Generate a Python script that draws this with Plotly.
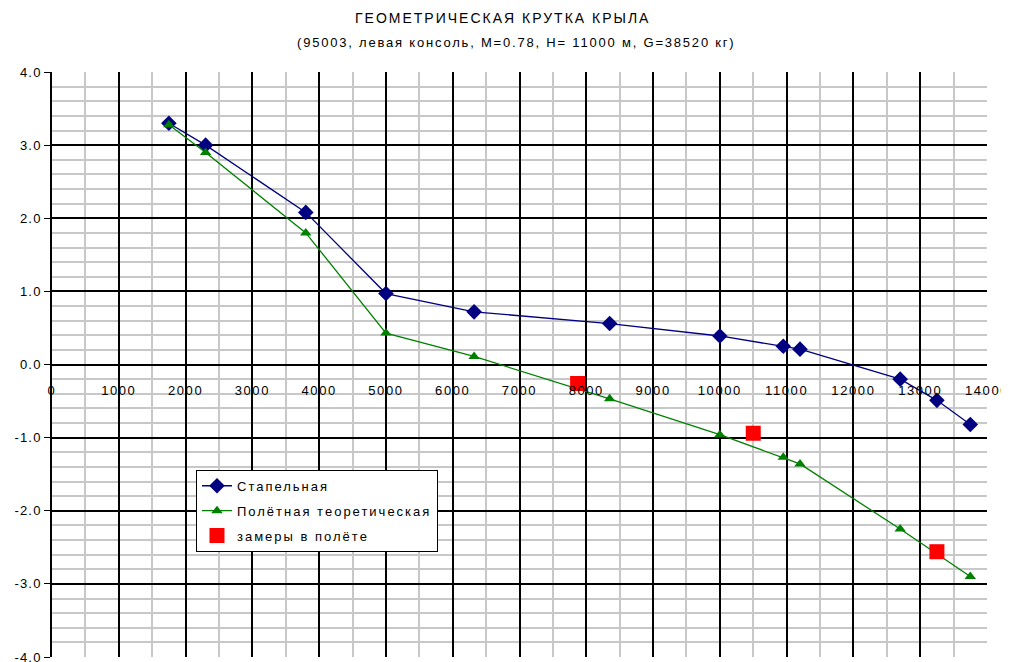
import plotly.graph_objects as go

# ---- data ----
title_main = "ГЕОМЕТРИЧЕСКАЯ КРУТКА КРЫЛА"
title_sub = "(95003, левая консоль, M=0.78, H= 11000 м, G=38520 кг)"

x_stapel = [1750, 2300, 3800, 5000, 6320, 8350, 10000, 10950, 11200, 12700, 13250, 13750]
y_stapel = [3.30, 3.00, 2.08, 0.97, 0.72, 0.56, 0.39, 0.25, 0.21, -0.20, -0.49, -0.82]

x_flight = [1750, 2300, 3800, 5000, 6320, 8350, 10000, 10950, 11200, 12700, 13750]
y_flight = [3.28, 2.90, 1.80, 0.43, 0.11, -0.47, -0.96, -1.27, -1.36, -2.25, -2.90]

x_meas = [7870, 10500, 13250]
y_meas = [-0.26, -0.94, -2.56]

names = ["Стапельная", "Полётная теоретическая", "замеры в полёте"]

x_ticks = list(range(0, 14001, 1000))
y_ticks = [4.0, 3.0, 2.0, 1.0, 0.0, -1.0, -2.0, -3.0, -4.0]

FONT = "Liberation Sans, Arial, sans-serif"


def sp(t, ls=1.5):
    return f'<span style="letter-spacing:{ls}px">{t}</span>'


fig = go.Figure()
fig.add_trace(go.Scatter(
    x=x_stapel, y=y_stapel, mode="lines+markers", name=sp(names[0], 2.0),
    legendgroup="a",
    line=dict(color="#000080", width=1.3),
    marker=dict(symbol="diamond", size=12, color="#000080"),
))
fig.add_trace(go.Scatter(
    x=x_flight, y=y_flight, mode="lines+markers", name=sp(names[1], 2.0),
    legendgroup="b",
    line=dict(color="#008000", width=1.3),
    marker=dict(symbol="triangle-up", size=10, color="#008000"),
))
fig.add_trace(go.Scatter(
    x=x_meas, y=y_meas, mode="markers", name=sp(names[2], 2.0),
    legendgroup="c",
    marker=dict(symbol="square", size=15, color="#ff0000"),
))

# page body has an 8px default margin, so the figure is sized/offset accordingly
fig.update_layout(
    width=1001, height=654,
    margin=dict(l=44, r=22, t=64, b=5, autoexpand=False),
    paper_bgcolor="white", plot_bgcolor="white",
    font=dict(family=FONT, size=13, color="black"),
    showlegend=True,
    legend=dict(
        x=0.154, y=0.32, xanchor="left", yanchor="top",
        bgcolor="white", bordercolor="black", borderwidth=1,
        font=dict(size=13, color="black"),
        tracegroupgap=5,
    ),
    xaxis=dict(
        range=[0, 14000], anchor="free", position=0.5,
        automargin=False, ticklabeloverflow="allow",
        tickvals=x_ticks, ticktext=[sp(str(v), 1.6) for v in x_ticks],
        showgrid=True, gridcolor="black", gridwidth=1.6,
        minor=dict(dtick=500, showgrid=True, gridcolor="#c8c8c8", gridwidth=2),
        zeroline=False, showline=False, ticks="",
        ticklabelstandoff=16,
        tickfont=dict(size=13),
    ),
    yaxis=dict(
        range=[-4, 4], automargin=False, ticklabeloverflow="allow",
        tickvals=y_ticks, ticktext=[sp(f"{v:.1f}", 1.2) for v in y_ticks],
        showgrid=True, gridcolor="black", gridwidth=1.6,
        minor=dict(dtick=0.2, showgrid=True, gridcolor="#c8c8c8", gridwidth=2),
        zeroline=True, zerolinecolor="black", zerolinewidth=1.6,
        showline=True, linecolor="black", linewidth=1.6,
        ticks="outside", ticklen=6, tickcolor="black", tickwidth=1.4,
        tickfont=dict(size=13),
    ),
    annotations=[
        dict(text=sp(title_main, 2.0), xref="paper", yref="paper", x=0.482, y=1.092,
             xanchor="center", yanchor="middle", showarrow=False,
             font=dict(size=14)),
        dict(text=sp(title_sub, 1.8), xref="paper", yref="paper", x=0.497, y=1.051,
             xanchor="center", yanchor="middle", showarrow=False,
             font=dict(size=13)),
    ],
)

fig.write_html("out.html")
